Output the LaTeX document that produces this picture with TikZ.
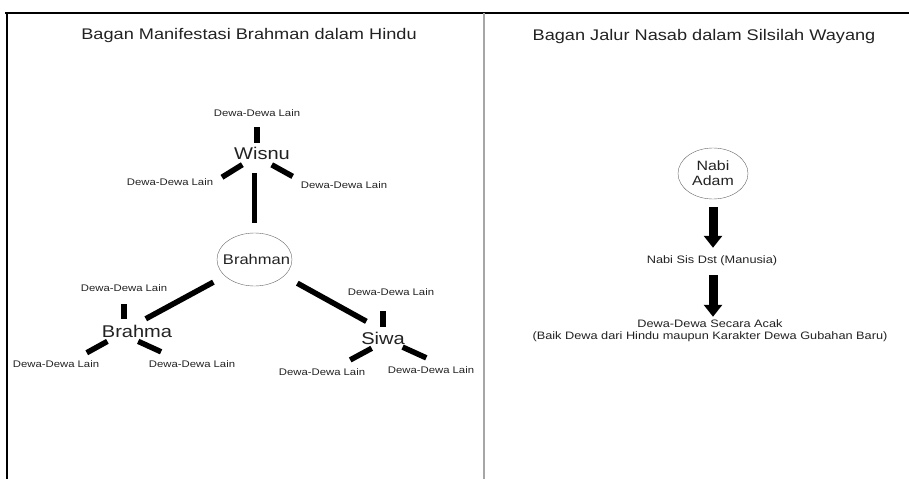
\documentclass[tikz,border=0pt]{standalone}
\usepackage{fontspec}
\setmainfont{Liberation Sans}[FakeStretch=1.18]
\usepackage{tikz}
\usetikzlibrary{arrows.meta, shapes.geometric, calc}
\definecolor{inkgray}{RGB}{34,34,34}

\begin{document}
\begin{tikzpicture}[x=1pt, y=-1pt,
    title/.style={inner sep=1pt, text=inkgray, font=\fontsize{15.4}{18}\selectfont},
    god/.style={inner sep=1pt, text=inkgray, font=\fontsize{17}{20}\selectfont},
    other/.style={inner sep=1pt, text=inkgray, font=\fontsize{9.6}{11}\selectfont},
    item/.style={inner sep=1pt, text=inkgray, align=center,
      font=\fontsize{10.8}{12}\selectfont},
    hub/.style={ellipse, draw=gray!80!black, thin, inner sep=0pt, text=inkgray},
    bar/.style={line width=5.5pt, line cap=butt},
    arrow/.style={line width=9pt, -{Triangle[width=18pt, length=12pt]}}
]
\useasboundingbox (0,0) rectangle (909,479);

% frame
\draw[line width=1.6pt] (5,13) -- (909,13);
\draw[line width=1.6pt] (7,13) -- (7,479);
\draw[line width=1.6pt, gray!70] (484,13) -- (484,479);

\node[title] (t1) at (249,36) {Bagan Manifestasi Brahman dalam Hindu};
\node[title] (t2) at (704,37) {Bagan Jalur Nasab dalam Silsilah Wayang};

% left chart
\node[hub, minimum width=75pt, minimum height=53pt,
  font=\fontsize{14}{16}\selectfont] (brahman) at (254.5,259.5)
  {\makebox[0pt]{\hspace{4pt}Brahman}};
\node[god] (wisnu) at (262,153) {Wisnu};
\node[god] (brahma) at (137,331) {Brahma};
\node[god] (siwa) at (383,338) {Siwa};

\node[other] (wt) at (257,113) {Dewa-Dewa Lain};
\node[other] (wl) at (170,182) {Dewa-Dewa Lain};
\node[other] (wr) at (344,185) {Dewa-Dewa Lain};
\node[other] (bt) at (124,288) {Dewa-Dewa Lain};
\node[other] (bl) at (56,364) {Dewa-Dewa Lain};
\node[other] (br) at (192,364) {Dewa-Dewa Lain};
\node[other] (st) at (391,292) {Dewa-Dewa Lain};
\node[other] (sl) at (322,372) {Dewa-Dewa Lain};
\node[other] (sr) at (431,370) {Dewa-Dewa Lain};

\draw[bar, shorten <=13pt, shorten >=10pt] (brahman |- wisnu.south) -- (brahman.north);
\draw[bar, shorten <=13pt, shorten >=10pt] (brahman.209) -- (brahma.north);
\draw[bar, shorten <=15pt, shorten >=19pt] (brahman.-29) -- (siwa.north);

\draw[bar, shorten <=3pt, shorten >=9.5pt] (wt |- wisnu.north) -- (wt.south);
\draw[bar, shorten <=8pt, shorten >=9pt] (wisnu.210) -- (wl.east);
\draw[bar, shorten <=9pt, shorten >=8pt] (wisnu.-76) -- (wr.north west);

\draw[bar, shorten <=5pt, shorten >=11.5pt] (bt |- brahma.north) -- (bt.south);
\draw[bar, shorten <=6pt, shorten >=13.5pt] (brahma.197) -- (bl.14);
\draw[bar, shorten <=7pt, shorten >=18pt] (brahma.235) -- (br.162);

\draw[bar, shorten <=4pt, shorten >=14.5pt] (siwa.north) -- (siwa.north |- st.south);
\draw[bar, shorten <=6pt, shorten >=15.5pt] (siwa.231) -- (sl.18);
\draw[bar, shorten <=4pt, shorten >=18pt] (siwa.-25) -- (sr.22);

% right chart
\node[hub, minimum width=70pt, minimum height=51pt, align=center,
  font=\fontsize{13.5}{15}\selectfont] (adam) at (713,173.5) {Nabi\\Adam};
\node[item] (sis) at (712,261) {Nabi Sis Dst (Manusia)};
\node[item] (acak) at (710,331)
  {Dewa-Dewa Secara Acak\\(Baik Dewa dari Hindu maupun Karakter Dewa Gubahan Baru)};

\draw[arrow, shorten <=8pt, shorten >=7pt] (adam.south) -- (adam.south |- sis.north);
\draw[arrow, shorten <=8pt, shorten >=2pt] (adam.south |- sis.south) -- (adam.south |- acak.north);
\end{tikzpicture}
\end{document}
